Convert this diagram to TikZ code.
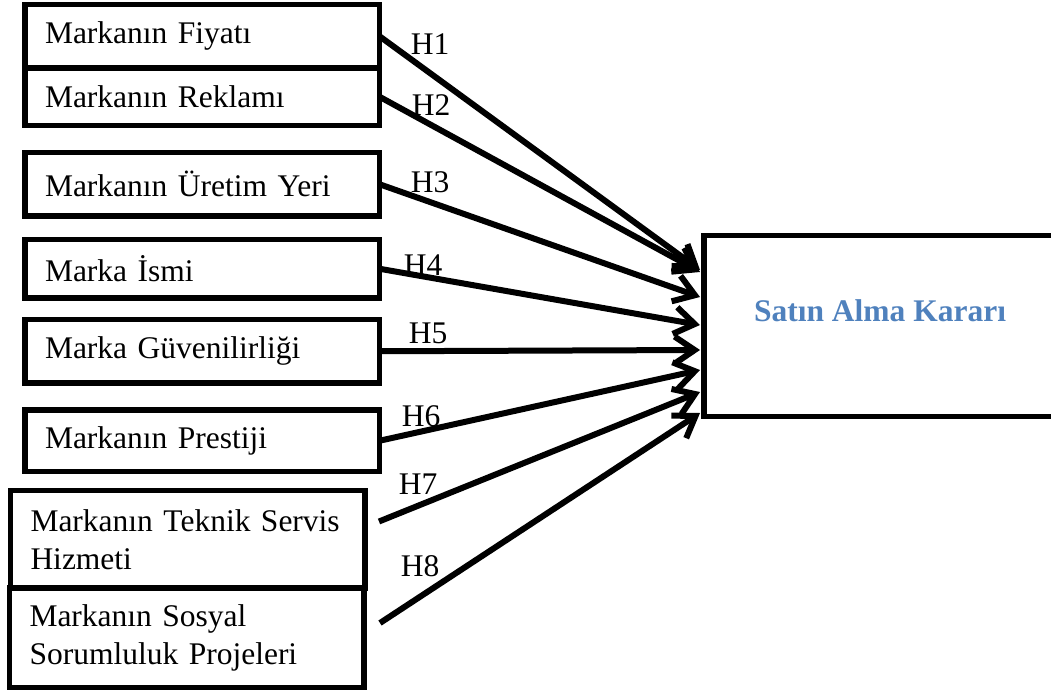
\documentclass[tikz,border=0pt]{standalone}
\usepackage{fontspec}
\setmainfont{Liberation Serif}
\usetikzlibrary{arrows.meta,calc}
\definecolor{kararmavi}{RGB}{79,129,189}
\newcommand{\metin}{\fontsize{31.5}{38}\selectfont}

\begin{document}
\begin{tikzpicture}[x=1pt, y=-1pt,
  kutu/.style={draw, line width=5.5pt, outer sep=0pt, inner xsep=20pt, inner ysep=0pt,
    minimum width=354.5pt, text width=314.5pt, align=left, anchor=north west, font=\metin},
  ok/.style={line width=6pt, -{Straight Barb[length=20pt,width=27pt]}},
  hip/.style={inner sep=0pt, font=\metin},
  ]
\useasboundingbox (0,0) rectangle (1051,695);
% left side: the factors
\node[kutu, minimum height=63.5pt] (fiyat) at (25,4.5) {Markanın Fiyatı};
\node[kutu, minimum height=57.5pt] (reklam) at (25,68) {Markanın Reklamı};
\node[kutu, minimum height=63.5pt] (uretim) at (25,152.5) {Markanın Üretim Yeri};
\node[kutu, minimum height=58.5pt] (isim) at (25,239.5) {Marka İsmi};
\node[kutu, minimum height=63.5pt] (guven) at (25,319.5) {Marka Güvenilirliği};
\node[kutu, minimum height=61.5pt] (prestij) at (25,410) {Markanın Prestiji};
\node[kutu, minimum height=97.5pt] (servis) at (10.5,490.5) {Markanın Teknik Servis\\Hizmeti};
\node[kutu, minimum height=99.5pt] (sosyal) at (9.5,588) {Markanın Sosyal\\Sorumluluk Projeleri};
% right side: the decision
\node[draw, line width=5.5pt, outer sep=0pt, minimum width=352pt, minimum height=181pt,
  anchor=north west] (karar) at (704,235.5) {};
\node[font=\metin\bfseries, text=kararmavi] (kararyazi) at ([yshift=15pt]karar.center) {Satın Alma Kararı};
\coordinate (servis-c) at ($(servis.north east)+(14,31)$);
\coordinate (sosyal-c) at ($(sosyal.north east)+(16,35)$);
% hypotheses
\foreach \kaynak/\dy/\lx/\ly [count=\i] in {fiyat.east/34.5/430/44, reklam.east/36.5/431/105,
    uretim.east/61.5/430/182, isim.east/89.5/423/265, guven.east/114.5/428/333,
    prestij.east/134.5/421/416, servis-c/156.5/418/484, sosyal-c/177.5/420/566} {
  \coordinate (u\i) at ($(karar.north west)+(-4,\dy)$);
  \draw[ok] (\kaynak) -- (u\i);
  \node[hip] (h\i) at (\lx,\ly) {H\i};
}
\end{tikzpicture}
\end{document}
